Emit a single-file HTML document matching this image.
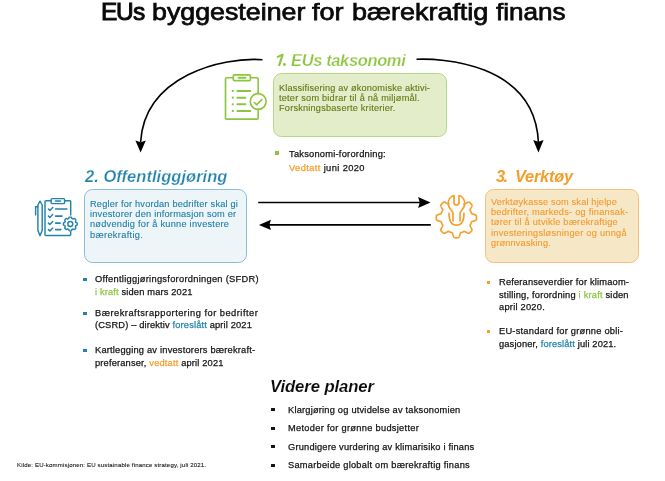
<!DOCTYPE html>
<html><head><meta charset="utf-8"><style>
html,body{margin:0;padding:0;}
body{width:665px;height:481px;position:relative;overflow:hidden;background:#fff;font-family:"Liberation Sans",sans-serif;-webkit-font-smoothing:antialiased;}
.t{position:absolute;white-space:pre;will-change:transform;}
.box{position:absolute;box-sizing:border-box;border:1px solid;border-radius:8.5px;}
.sq{position:absolute;}
</style></head><body>
<div class="t" style="left:101.00px;top:-1.90px;font-size:24.5px;line-height:28px;color:#0a0a0a;font-weight:normal;-webkit-text-stroke:0.95px #0a0a0a;transform:scale(1.0000,1.0);transform-origin:0 22px;">E</div>
<div class="t" style="left:115.90px;top:-1.90px;font-size:24.5px;line-height:28px;color:#0a0a0a;font-weight:normal;-webkit-text-stroke:0.95px #0a0a0a;transform:scale(1.0000,1.0);transform-origin:0 22px;">U</div>
<div class="t" style="left:133.20px;top:-1.90px;font-size:24.5px;line-height:28px;color:#0a0a0a;font-weight:normal;-webkit-text-stroke:0.95px #0a0a0a;transform:scale(1.0000,1.0);transform-origin:0 22px;">s</div>
<div class="t" style="left:151.90px;top:-1.90px;font-size:24.5px;line-height:28px;color:#0a0a0a;font-weight:normal;-webkit-text-stroke:0.75px #0a0a0a;transform:scale(1.0930,1.0);transform-origin:0 22px;">byggesteiner</div>
<div class="t" style="left:312.40px;top:-1.90px;font-size:24.5px;line-height:28px;color:#0a0a0a;font-weight:normal;-webkit-text-stroke:0.75px #0a0a0a;transform:scale(1.1071,1.0);transform-origin:0 22px;">for</div>
<div class="t" style="left:352.20px;top:-1.90px;font-size:24.5px;line-height:28px;color:#0a0a0a;font-weight:normal;-webkit-text-stroke:0.75px #0a0a0a;transform:scale(1.1003,1.0);transform-origin:0 22px;">bærekraftig</div>
<div class="t" style="left:496.20px;top:-1.90px;font-size:24.5px;line-height:28px;color:#0a0a0a;font-weight:normal;-webkit-text-stroke:0.75px #0a0a0a;transform:scale(1.0655,1.0);transform-origin:0 22px;">finans</div>
<svg width="665" height="481" style="position:absolute;left:0;top:0"><g stroke="#8cc63f" stroke-width="2.1" stroke-linecap="round" fill="none"><path d="M282.6,54.8 L279.2,65.1"/><path d="M282.2,54.8 L277.7,56.9" stroke-width="1.9"/></g><circle cx="284.4" cy="64.5" r="1.45" fill="#8cc63f"/></svg>
<div class="t" style="left:290.60px;top:50.90px;font-size:16.50px;line-height:19px;color:#8cc63f;font-weight:bold;font-style:italic;-webkit-text-stroke:0.25px #fff;"><span style="letter-spacing:-0.372px">EUs taksonomi</span></div>
<div class="t" style="left:85.13px;top:166.90px;font-size:16.50px;line-height:19px;color:#2384ab;font-weight:bold;font-style:italic;-webkit-text-stroke:0.25px #fff;"><span style="letter-spacing:0.035px">2. Offentliggjøring</span></div>
<div class="t" style="left:496.20px;top:167.10px;font-size:16.40px;line-height:19px;color:#f59e2c;font-weight:bold;font-style:italic;"><span style="letter-spacing:-1.694px">3.</span></div>
<div class="t" style="left:515.40px;top:167.10px;font-size:16.40px;line-height:19px;color:#f59e2c;font-weight:bold;font-style:italic;"><span style="letter-spacing:-0.245px">Verktøy</span></div>
<div class="t" style="left:269.90px;top:377.30px;font-size:16.70px;line-height:19px;color:#0a0a0a;font-weight:bold;font-style:italic;-webkit-text-stroke:0.1px #fff;"><span style="letter-spacing:-0.088px">Videre planer</span></div>

<div class="box" style="left:273px;top:73px;width:173.5px;height:63.5px;background:#e3edca;border-color:#b3d887;"></div>
<div class="box" style="left:84px;top:189px;width:163px;height:73.5px;background:#eef5f9;border-color:#88bdd3;"></div>
<div class="box" style="left:485px;top:189px;width:153.5px;height:73.5px;background:#f6e8c7;border-color:#f6c07c;"></div>
<div class="t" style="left:278.80px;top:82.70px;font-size:9.17px;line-height:10.2px;color:#667815;font-weight:normal;font-style:normal;-webkit-text-stroke:0.12px;"><span style="letter-spacing:0.183px">Klassifisering av økonomiske aktivi-</span><br><span style="letter-spacing:0.230px">teter som bidrar til å nå miljømål.</span><br><span style="letter-spacing:0.220px">Forskningsbaserte kriterier.</span></div>
<div class="t" style="left:89.90px;top:199.20px;font-size:9.21px;line-height:10.2px;color:#1f7ea6;font-weight:normal;font-style:normal;-webkit-text-stroke:0.12px;"><span style="letter-spacing:0.190px">Regler for hvordan bedrifter skal gi</span><br><span style="letter-spacing:0.218px">investorer den informasjon som er</span><br><span style="letter-spacing:0.249px">nødvendig for å kunne investere</span><br><span style="letter-spacing:0.340px">bærekraftig.</span></div>
<div class="t" style="left:490.50px;top:197.00px;font-size:9.21px;line-height:10.22px;color:#f29a30;font-weight:normal;font-style:normal;-webkit-text-stroke:0.12px;"><span style="letter-spacing:0.168px">Verktøykasse som skal hjelpe</span><br><span style="letter-spacing:0.246px">bedrifter, markeds- og finansak-</span><br><span style="letter-spacing:0.241px">tører til å utvikle bærekraftige</span><br><span style="letter-spacing:0.266px">investeringsløsninger og unngå</span><br><span style="letter-spacing:0.161px">grønnvasking.</span></div>
<div class="sq" style="left:275.2px;top:151.4px;width:3.4px;height:3.2px;background:#8cc63f"></div>
<div class="t" style="left:289.00px;top:147.80px;font-size:9.31px;line-height:13.7px;color:#141414;font-weight:normal;font-style:normal;-webkit-text-stroke:0.25px;"><span style="letter-spacing:0.234px">Taksonomi-forordning:</span><br><span style="letter-spacing:0.390px"><span style="color:#f59e2c">Vedtatt</span> juni 2020</span></div>
<div class="sq" style="left:83.3px;top:278.3px;width:3.5px;height:3.2px;background:#2384ab"></div>
<div class="t" style="left:95.30px;top:272.80px;font-size:9.31px;line-height:12.8px;color:#141414;font-weight:normal;font-style:normal;-webkit-text-stroke:0.25px;"><span style="letter-spacing:0.279px">Offentliggjøringsforordningen (SFDR)</span><br><span style="letter-spacing:0.151px"><span style="color:#8cc63f">i kraft</span> siden mars 2021</span></div>
<div class="sq" style="left:83.3px;top:311.8px;width:3.5px;height:3.2px;background:#2384ab"></div>
<div class="t" style="left:95.40px;top:307.00px;font-size:9.31px;line-height:12.45px;color:#141414;font-weight:normal;font-style:normal;-webkit-text-stroke:0.25px;"><span style="letter-spacing:0.488px">Bærekraftsrapportering for bedrifter</span><br><span style="letter-spacing:0.146px">(CSRD) – direktiv <span style="color:#2384ab">foreslått</span> april 2021</span></div>
<div class="sq" style="left:83.3px;top:348.8px;width:3.5px;height:3.2px;background:#2384ab"></div>
<div class="t" style="left:95.40px;top:343.60px;font-size:9.31px;line-height:12.5px;color:#141414;font-weight:normal;font-style:normal;-webkit-text-stroke:0.25px;"><span style="letter-spacing:0.199px">Kartlegging av investorers bærekraft-</span><br><span style="letter-spacing:0.164px">preferanser, <span style="color:#f59e2c">vedtatt</span> april 2021</span></div>
<div class="sq" style="left:487px;top:280.7px;width:3.2px;height:3.2px;background:#f59e2c"></div>
<div class="t" style="left:498.60px;top:275.50px;font-size:9.31px;line-height:12.6px;color:#141414;font-weight:normal;font-style:normal;-webkit-text-stroke:0.25px;"><span style="letter-spacing:0.174px">Referanseverdier for klimaom-</span><br><span style="letter-spacing:0.198px">stilling, forordning <span style="color:#8cc63f">i kraft</span> siden</span><br><span style="letter-spacing:0.232px">april 2020.</span></div>
<div class="sq" style="left:487px;top:329.9px;width:3.2px;height:3.2px;background:#f59e2c"></div>
<div class="t" style="left:498.80px;top:324.70px;font-size:9.31px;line-height:12.8px;color:#141414;font-weight:normal;font-style:normal;-webkit-text-stroke:0.25px;"><span style="letter-spacing:0.226px">EU-standard for grønne obli-</span><br><span style="letter-spacing:0.136px">gasjoner, <span style="color:#2384ab">foreslått</span> juli 2021.</span></div>
<div class="sq" style="left:271.3px;top:408px;width:3.7px;height:3.4px;background:#141414"></div>
<div class="t" style="left:288.40px;top:404.00px;font-size:9.26px;line-height:12px;color:#141414;font-weight:normal;font-style:normal;-webkit-text-stroke:0.25px;"><span style="letter-spacing:0.215px">Klargjøring og utvidelse av taksonomien</span></div>
<div class="sq" style="left:271.3px;top:427px;width:3.7px;height:3.4px;background:#141414"></div>
<div class="t" style="left:288.40px;top:422.30px;font-size:9.26px;line-height:12px;color:#141414;font-weight:normal;font-style:normal;-webkit-text-stroke:0.25px;"><span style="letter-spacing:0.302px">Metoder for grønne budsjetter</span></div>
<div class="sq" style="left:271.3px;top:445px;width:3.7px;height:3.4px;background:#141414"></div>
<div class="t" style="left:288.40px;top:440.80px;font-size:9.26px;line-height:12px;color:#141414;font-weight:normal;font-style:normal;-webkit-text-stroke:0.25px;"><span style="letter-spacing:0.204px">Grundigere vurdering av klimarisiko i finans</span></div>
<div class="sq" style="left:271.3px;top:464px;width:3.7px;height:3.4px;background:#141414"></div>
<div class="t" style="left:288.40px;top:459.20px;font-size:9.26px;line-height:12px;color:#141414;font-weight:normal;font-style:normal;-webkit-text-stroke:0.25px;"><span style="letter-spacing:0.255px">Samarbeide globalt om bærekraftig finans</span></div>
<div class="t" style="left:16.90px;top:460.80px;font-size:6.08px;line-height:8px;color:#141414;font-weight:normal;font-style:normal;-webkit-text-stroke:0.1px;"><span style="letter-spacing:0.150px">Kilde: EU-kommisjonen: EU sustainable finance strategy, juli 2021.</span></div>

<svg width="665" height="481" viewBox="0 0 665 481" style="position:absolute;left:0;top:0">
<defs>
<marker id="ah" viewBox="0 0 12 10" refX="12" refY="5" markerWidth="12" markerHeight="10" markerUnits="userSpaceOnUse" orient="auto">
<path d="M0,0 L12,5 L0,10 L2.5,5 Z" fill="#000"/>
</marker>
</defs>
<g fill="none" stroke="#000" stroke-width="1.6">
<path d="M262.5,59.7 C222.5,56.7 144.7,75.5 140.6,142"/>
<path d="M416.5,59.3 C438.5,58.3 534.5,61.5 538.4,142"/>
<path d="M258.2,202.5 L420,202.5"/>
<path d="M430.8,224.9 L269,224.9"/>
</g>
<path d="M140.6,152.6 L135.4,140.5 L140.6,142.2 L145.8,140.5 Z" fill="#000"/>
<path d="M538.4,152.4 L533.2,140.1 L538.4,141.8 L543.6,140.1 Z" fill="#000"/>
<path d="M430.5,202.5 L418.1,197.1 L419.8,202.5 L418.1,207.9 Z" fill="#000"/>
<path d="M258.9,224.9 L270.9,219.7 L269.4,224.9 L270.9,230.1 Z" fill="#000"/>

<!-- icon1 -->
<g fill="none" stroke="#8cc63f" stroke-width="1.65" stroke-linecap="round" stroke-linejoin="round">
<path d="M258.2,93.5 V78.9 Q258.2,77.7 257,77.7 H250.4 M233.3,77.7 H226.7 Q225.5,77.7 225.5,78.9 V117.9 Q225.5,119.1 226.7,119.1 H257 Q258.2,119.1 258.2,117.9 V109.4"/>
<rect x="233.3" y="74.8" width="17.1" height="5.8" rx="1.2"/>
<path d="M238.6,77.7 H245.4" stroke-width="2"/>
<circle cx="258.2" cy="101.5" r="7.9"/>
<path d="M254.3,102.5 L256.8,104.8 L261.8,99.6" stroke-width="1.6"/>
<g stroke-width="2">
<path d="M237.4,90.9 H250.3 M237.4,97.7 H245.3 M237.4,104.3 H245.3 M237.4,111 H250.3"/>
</g>
</g>
<g fill="#8cc63f">
<circle cx="232.8" cy="90.9" r="1.15"/><circle cx="232.8" cy="97.7" r="1.15"/><circle cx="232.8" cy="104.3" r="1.15"/><circle cx="232.8" cy="111" r="1.15"/>
</g>

<g fill="none" stroke="#2384ab" stroke-width="1.45" stroke-linecap="round" stroke-linejoin="round">
<path d="M70.7,215 V201.6 Q70.7,200.8 69.9,200.8 H64.6 M51.1,200.8 H45.8 Q45,200.8 45,201.6 V234.6 Q45,235.4 45.8,235.4 H69.9 Q70.7,235.4 70.7,234.6 V232.3"/>
<rect x="51.1" y="198.6" width="13.5" height="5" rx="1"/>
<path d="M55.5,201.1 H60.5" stroke-width="1.5"/>
<path d="M38,206.8 H35.6 V214.7"/>
<path d="M40,201.2 L42.2,205 V230.5 L40,235.6 L37.9,230.5 V205 Z"/>
<path d="M48.4,209 L49.9,210.4 L52.7,207.4 M48.4,216.1 L49.9,217.5 L52.7,214.5 M48.4,223.1 L49.9,224.5 L52.7,221.5 M48.4,229.6 L49.9,231 L52.7,228"/>
<g stroke-width="1.6"><path d="M55.6,209 H66.8 M55.6,216.1 H62 M55.6,223.1 H60.2 M55.6,229.6 H60.8"/></g>
<circle cx="70.3" cy="224" r="2.45"/>
<path d="M70.30,217.10 L70.36,217.10 L70.42,217.10 L70.48,217.10 L70.54,217.10 L70.60,217.11 L70.66,217.11 L70.72,217.11 L70.78,217.12 L70.84,217.12 L70.90,217.13 L70.96,217.13 L71.02,217.14 L71.08,217.14 L71.14,217.15 L71.20,217.16 L71.26,217.18 L71.31,217.21 L71.37,217.26 L71.42,217.32 L71.47,217.39 L71.51,217.46 L71.55,217.55 L71.59,217.64 L71.63,217.73 L71.67,217.83 L71.70,217.93 L71.73,218.02 L71.77,218.12 L71.80,218.21 L71.83,218.29 L71.86,218.36 L71.90,218.43 L71.93,218.49 L71.97,218.53 L72.01,218.56 L72.06,218.58 L72.11,218.59 L72.16,218.61 L72.20,218.63 L72.25,218.64 L72.30,218.66 L72.34,218.68 L72.39,218.70 L72.44,218.72 L72.48,218.73 L72.53,218.75 L72.57,218.77 L72.62,218.79 L72.66,218.81 L72.71,218.83 L72.75,218.86 L72.80,218.88 L72.84,218.90 L72.89,218.92 L72.93,218.94 L72.98,218.95 L73.04,218.95 L73.11,218.93 L73.18,218.91 L73.26,218.88 L73.34,218.84 L73.42,218.80 L73.51,218.76 L73.60,218.72 L73.69,218.67 L73.79,218.63 L73.88,218.59 L73.97,218.55 L74.06,218.52 L74.15,218.50 L74.24,218.48 L74.31,218.48 L74.38,218.48 L74.45,218.50 L74.50,218.53 L74.55,218.56 L74.60,218.60 L74.64,218.64 L74.69,218.68 L74.74,218.71 L74.78,218.75 L74.83,218.79 L74.87,218.83 L74.92,218.87 L74.96,218.91 L75.01,218.95 L75.05,218.99 L75.09,219.04 L75.14,219.08 L75.18,219.12 L75.22,219.16 L75.26,219.21 L75.31,219.25 L75.35,219.29 L75.39,219.34 L75.43,219.38 L75.47,219.43 L75.51,219.47 L75.55,219.52 L75.59,219.56 L75.62,219.61 L75.66,219.66 L75.70,219.70 L75.74,219.75 L75.77,219.80 L75.80,219.85 L75.82,219.92 L75.82,219.99 L75.82,220.06 L75.80,220.15 L75.78,220.24 L75.75,220.33 L75.71,220.42 L75.67,220.51 L75.63,220.61 L75.58,220.70 L75.54,220.79 L75.50,220.88 L75.46,220.96 L75.42,221.04 L75.39,221.12 L75.37,221.19 L75.35,221.26 L75.35,221.32 L75.36,221.37 L75.38,221.41 L75.40,221.46 L75.42,221.50 L75.44,221.55 L75.47,221.59 L75.49,221.64 L75.51,221.68 L75.53,221.73 L75.55,221.77 L75.57,221.82 L75.58,221.86 L75.60,221.91 L75.62,221.96 L75.64,222.00 L75.66,222.05 L75.67,222.10 L75.69,222.14 L75.71,222.19 L75.72,222.24 L75.74,222.29 L75.77,222.33 L75.81,222.37 L75.87,222.40 L75.94,222.44 L76.01,222.47 L76.09,222.50 L76.18,222.53 L76.28,222.57 L76.37,222.60 L76.47,222.63 L76.57,222.67 L76.66,222.71 L76.75,222.75 L76.84,222.79 L76.91,222.83 L76.98,222.88 L77.04,222.93 L77.09,222.99 L77.12,223.04 L77.14,223.10 L77.15,223.16 L77.16,223.22 L77.16,223.28 L77.17,223.34 L77.17,223.40 L77.18,223.46 L77.18,223.52 L77.19,223.58 L77.19,223.64 L77.19,223.70 L77.20,223.76 L77.20,223.82 L77.20,223.88 L77.20,223.94 L77.20,224.00 L77.20,224.06 L77.20,224.12 L77.20,224.18 L77.20,224.24 L77.19,224.30 L77.19,224.36 L77.19,224.42 L77.18,224.48 L77.18,224.54 L77.17,224.60 L77.17,224.66 L77.16,224.72 L77.16,224.78 L77.15,224.84 L77.14,224.90 L77.12,224.96 L77.09,225.01 L77.04,225.07 L76.98,225.12 L76.91,225.17 L76.84,225.21 L76.75,225.25 L76.66,225.29 L76.57,225.33 L76.47,225.37 L76.37,225.40 L76.28,225.43 L76.18,225.47 L76.09,225.50 L76.01,225.53 L75.94,225.56 L75.87,225.60 L75.81,225.63 L75.77,225.67 L75.74,225.71 L75.72,225.76 L75.71,225.81 L75.69,225.86 L75.67,225.90 L75.66,225.95 L75.64,226.00 L75.62,226.04 L75.60,226.09 L75.58,226.14 L75.57,226.18 L75.55,226.23 L75.53,226.27 L75.51,226.32 L75.49,226.36 L75.47,226.41 L75.44,226.45 L75.42,226.50 L75.40,226.54 L75.38,226.59 L75.36,226.63 L75.35,226.68 L75.35,226.74 L75.37,226.81 L75.39,226.88 L75.42,226.96 L75.46,227.04 L75.50,227.12 L75.54,227.21 L75.58,227.30 L75.63,227.39 L75.67,227.49 L75.71,227.58 L75.75,227.67 L75.78,227.76 L75.80,227.85 L75.82,227.94 L75.82,228.01 L75.82,228.08 L75.80,228.15 L75.77,228.20 L75.74,228.25 L75.70,228.30 L75.66,228.34 L75.62,228.39 L75.59,228.44 L75.55,228.48 L75.51,228.53 L75.47,228.57 L75.43,228.62 L75.39,228.66 L75.35,228.71 L75.31,228.75 L75.26,228.79 L75.22,228.84 L75.18,228.88 L75.14,228.92 L75.09,228.96 L75.05,229.01 L75.01,229.05 L74.96,229.09 L74.92,229.13 L74.87,229.17 L74.83,229.21 L74.78,229.25 L74.74,229.29 L74.69,229.32 L74.64,229.36 L74.60,229.40 L74.55,229.44 L74.50,229.47 L74.45,229.50 L74.38,229.52 L74.31,229.52 L74.24,229.52 L74.15,229.50 L74.06,229.48 L73.97,229.45 L73.88,229.41 L73.79,229.37 L73.69,229.33 L73.60,229.28 L73.51,229.24 L73.42,229.20 L73.34,229.16 L73.26,229.12 L73.18,229.09 L73.11,229.07 L73.04,229.05 L72.98,229.05 L72.93,229.06 L72.89,229.08 L72.84,229.10 L72.80,229.12 L72.75,229.14 L72.71,229.17 L72.66,229.19 L72.62,229.21 L72.57,229.23 L72.53,229.25 L72.48,229.27 L72.44,229.28 L72.39,229.30 L72.34,229.32 L72.30,229.34 L72.25,229.36 L72.20,229.37 L72.16,229.39 L72.11,229.41 L72.06,229.42 L72.01,229.44 L71.97,229.47 L71.93,229.51 L71.90,229.57 L71.86,229.64 L71.83,229.71 L71.80,229.79 L71.77,229.88 L71.73,229.98 L71.70,230.07 L71.67,230.17 L71.63,230.27 L71.59,230.36 L71.55,230.45 L71.51,230.54 L71.47,230.61 L71.42,230.68 L71.37,230.74 L71.31,230.79 L71.26,230.82 L71.20,230.84 L71.14,230.85 L71.08,230.86 L71.02,230.86 L70.96,230.87 L70.90,230.87 L70.84,230.88 L70.78,230.88 L70.72,230.89 L70.66,230.89 L70.60,230.89 L70.54,230.90 L70.48,230.90 L70.42,230.90 L70.36,230.90 L70.30,230.90 L70.24,230.90 L70.18,230.90 L70.12,230.90 L70.06,230.90 L70.00,230.89 L69.94,230.89 L69.88,230.89 L69.82,230.88 L69.76,230.88 L69.70,230.87 L69.64,230.87 L69.58,230.86 L69.52,230.86 L69.46,230.85 L69.40,230.84 L69.34,230.82 L69.29,230.79 L69.23,230.74 L69.18,230.68 L69.13,230.61 L69.09,230.54 L69.05,230.45 L69.01,230.36 L68.97,230.27 L68.93,230.17 L68.90,230.07 L68.87,229.98 L68.83,229.88 L68.80,229.79 L68.77,229.71 L68.74,229.64 L68.70,229.57 L68.67,229.51 L68.63,229.47 L68.59,229.44 L68.54,229.42 L68.49,229.41 L68.44,229.39 L68.40,229.37 L68.35,229.36 L68.30,229.34 L68.26,229.32 L68.21,229.30 L68.16,229.28 L68.12,229.27 L68.07,229.25 L68.03,229.23 L67.98,229.21 L67.94,229.19 L67.89,229.17 L67.85,229.14 L67.80,229.12 L67.76,229.10 L67.71,229.08 L67.67,229.06 L67.62,229.05 L67.56,229.05 L67.49,229.07 L67.42,229.09 L67.34,229.12 L67.26,229.16 L67.18,229.20 L67.09,229.24 L67.00,229.28 L66.91,229.33 L66.81,229.37 L66.72,229.41 L66.63,229.45 L66.54,229.48 L66.45,229.50 L66.36,229.52 L66.29,229.52 L66.22,229.52 L66.15,229.50 L66.10,229.47 L66.05,229.44 L66.00,229.40 L65.96,229.36 L65.91,229.32 L65.86,229.29 L65.82,229.25 L65.77,229.21 L65.73,229.17 L65.68,229.13 L65.64,229.09 L65.59,229.05 L65.55,229.01 L65.51,228.96 L65.46,228.92 L65.42,228.88 L65.38,228.84 L65.34,228.79 L65.29,228.75 L65.25,228.71 L65.21,228.66 L65.17,228.62 L65.13,228.57 L65.09,228.53 L65.05,228.48 L65.01,228.44 L64.98,228.39 L64.94,228.34 L64.90,228.30 L64.86,228.25 L64.83,228.20 L64.80,228.15 L64.78,228.08 L64.78,228.01 L64.78,227.94 L64.80,227.85 L64.82,227.76 L64.85,227.67 L64.89,227.58 L64.93,227.49 L64.97,227.39 L65.02,227.30 L65.06,227.21 L65.10,227.12 L65.14,227.04 L65.18,226.96 L65.21,226.88 L65.23,226.81 L65.25,226.74 L65.25,226.68 L65.24,226.63 L65.22,226.59 L65.20,226.54 L65.18,226.50 L65.16,226.45 L65.13,226.41 L65.11,226.36 L65.09,226.32 L65.07,226.27 L65.05,226.23 L65.03,226.18 L65.02,226.14 L65.00,226.09 L64.98,226.04 L64.96,226.00 L64.94,225.95 L64.93,225.90 L64.91,225.86 L64.89,225.81 L64.88,225.76 L64.86,225.71 L64.83,225.67 L64.79,225.63 L64.73,225.60 L64.66,225.56 L64.59,225.53 L64.51,225.50 L64.42,225.47 L64.32,225.43 L64.23,225.40 L64.13,225.37 L64.03,225.33 L63.94,225.29 L63.85,225.25 L63.76,225.21 L63.69,225.17 L63.62,225.12 L63.56,225.07 L63.51,225.01 L63.48,224.96 L63.46,224.90 L63.45,224.84 L63.44,224.78 L63.44,224.72 L63.43,224.66 L63.43,224.60 L63.42,224.54 L63.42,224.48 L63.41,224.42 L63.41,224.36 L63.41,224.30 L63.40,224.24 L63.40,224.18 L63.40,224.12 L63.40,224.06 L63.40,224.00 L63.40,223.94 L63.40,223.88 L63.40,223.82 L63.40,223.76 L63.41,223.70 L63.41,223.64 L63.41,223.58 L63.42,223.52 L63.42,223.46 L63.43,223.40 L63.43,223.34 L63.44,223.28 L63.44,223.22 L63.45,223.16 L63.46,223.10 L63.48,223.04 L63.51,222.99 L63.56,222.93 L63.62,222.88 L63.69,222.83 L63.76,222.79 L63.85,222.75 L63.94,222.71 L64.03,222.67 L64.13,222.63 L64.23,222.60 L64.32,222.57 L64.42,222.53 L64.51,222.50 L64.59,222.47 L64.66,222.44 L64.73,222.40 L64.79,222.37 L64.83,222.33 L64.86,222.29 L64.88,222.24 L64.89,222.19 L64.91,222.14 L64.93,222.10 L64.94,222.05 L64.96,222.00 L64.98,221.96 L65.00,221.91 L65.02,221.86 L65.03,221.82 L65.05,221.77 L65.07,221.73 L65.09,221.68 L65.11,221.64 L65.13,221.59 L65.16,221.55 L65.18,221.50 L65.20,221.46 L65.22,221.41 L65.24,221.37 L65.25,221.32 L65.25,221.26 L65.23,221.19 L65.21,221.12 L65.18,221.04 L65.14,220.96 L65.10,220.88 L65.06,220.79 L65.02,220.70 L64.97,220.61 L64.93,220.51 L64.89,220.42 L64.85,220.33 L64.82,220.24 L64.80,220.15 L64.78,220.06 L64.78,219.99 L64.78,219.92 L64.80,219.85 L64.83,219.80 L64.86,219.75 L64.90,219.70 L64.94,219.66 L64.98,219.61 L65.01,219.56 L65.05,219.52 L65.09,219.47 L65.13,219.43 L65.17,219.38 L65.21,219.34 L65.25,219.29 L65.29,219.25 L65.34,219.21 L65.38,219.16 L65.42,219.12 L65.46,219.08 L65.51,219.04 L65.55,218.99 L65.59,218.95 L65.64,218.91 L65.68,218.87 L65.73,218.83 L65.77,218.79 L65.82,218.75 L65.86,218.71 L65.91,218.68 L65.96,218.64 L66.00,218.60 L66.05,218.56 L66.10,218.53 L66.15,218.50 L66.22,218.48 L66.29,218.48 L66.36,218.48 L66.45,218.50 L66.54,218.52 L66.63,218.55 L66.72,218.59 L66.81,218.63 L66.91,218.67 L67.00,218.72 L67.09,218.76 L67.18,218.80 L67.26,218.84 L67.34,218.88 L67.42,218.91 L67.49,218.93 L67.56,218.95 L67.62,218.95 L67.67,218.94 L67.71,218.92 L67.76,218.90 L67.80,218.88 L67.85,218.86 L67.89,218.83 L67.94,218.81 L67.98,218.79 L68.03,218.77 L68.07,218.75 L68.12,218.73 L68.16,218.72 L68.21,218.70 L68.26,218.68 L68.30,218.66 L68.35,218.64 L68.40,218.63 L68.44,218.61 L68.49,218.59 L68.54,218.58 L68.59,218.56 L68.63,218.53 L68.67,218.49 L68.70,218.43 L68.74,218.36 L68.77,218.29 L68.80,218.21 L68.83,218.12 L68.87,218.02 L68.90,217.93 L68.93,217.83 L68.97,217.73 L69.01,217.64 L69.05,217.55 L69.09,217.46 L69.13,217.39 L69.18,217.32 L69.23,217.26 L69.29,217.21 L69.34,217.18 L69.40,217.16 L69.46,217.15 L69.52,217.14 L69.58,217.14 L69.64,217.13 L69.70,217.13 L69.76,217.12 L69.82,217.12 L69.88,217.11 L69.94,217.11 L70.00,217.11 L70.06,217.10 L70.12,217.10 L70.18,217.10 L70.24,217.10 L70.30,217.10 Z"/>
</g>

<g fill="none" stroke="#f5a02f" stroke-width="1.7" stroke-linecap="round" stroke-linejoin="round">
<path d="M463.93,203.92 L464.03,203.98 L464.14,204.01 L464.28,204.01 L464.43,203.98 L464.59,203.93 L464.77,203.86 L464.96,203.77 L465.17,203.67 L465.39,203.56 L465.61,203.43 L465.85,203.30 L466.09,203.16 L466.34,203.02 L466.59,202.89 L466.85,202.75 L467.10,202.63 L467.35,202.51 L467.60,202.40 L467.84,202.31 L468.08,202.23 L468.31,202.17 L468.52,202.13 L468.72,202.11 L468.90,202.12 L469.06,202.15 L469.20,202.21 L469.32,202.30 L469.43,202.40 L469.54,202.49 L469.66,202.59 L469.77,202.69 L469.88,202.79 L469.99,202.89 L470.09,202.99 L470.20,203.09 L470.31,203.19 L470.41,203.29 L470.52,203.39 L470.62,203.50 L470.73,203.60 L470.83,203.71 L470.93,203.81 L471.03,203.92 L471.14,204.03 L471.24,204.14 L471.33,204.25 L471.43,204.36 L471.53,204.47 L471.63,204.58 L471.72,204.69 L471.82,204.80 L471.90,204.93 L471.96,205.07 L471.98,205.24 L471.98,205.42 L471.96,205.63 L471.92,205.84 L471.85,206.07 L471.77,206.31 L471.68,206.55 L471.57,206.80 L471.45,207.05 L471.32,207.31 L471.18,207.56 L471.05,207.81 L470.91,208.06 L470.77,208.30 L470.64,208.53 L470.52,208.76 L470.41,208.97 L470.31,209.18 L470.22,209.37 L470.15,209.55 L470.11,209.71 L470.09,209.85 L470.10,209.98 L470.13,210.09 L470.19,210.19 L470.24,210.30 L470.30,210.40 L470.35,210.50 L470.40,210.60 L470.46,210.71 L470.51,210.81 L470.56,210.91 L470.61,211.02 L470.65,211.12 L470.70,211.23 L470.75,211.33 L470.80,211.44 L470.84,211.54 L470.89,211.65 L470.93,211.75 L470.97,211.86 L471.02,211.97 L471.06,212.08 L471.10,212.18 L471.14,212.29 L471.18,212.40 L471.22,212.51 L471.25,212.62 L471.29,212.73 L471.33,212.84 L471.36,212.95 L471.40,213.06 L471.43,213.17 L471.46,213.28 L471.50,213.39 L471.55,213.49 L471.65,213.58 L471.77,213.67 L471.92,213.75 L472.10,213.83 L472.29,213.91 L472.51,213.98 L472.75,214.05 L473.00,214.12 L473.26,214.20 L473.52,214.27 L473.80,214.35 L474.07,214.43 L474.35,214.52 L474.61,214.61 L474.88,214.70 L475.13,214.80 L475.37,214.91 L475.59,215.02 L475.79,215.13 L475.97,215.26 L476.13,215.38 L476.25,215.52 L476.34,215.65 L476.40,215.80 L476.42,215.94 L476.44,216.09 L476.45,216.24 L476.46,216.38 L476.47,216.53 L476.47,216.68 L476.48,216.83 L476.49,216.97 L476.49,217.12 L476.50,217.27 L476.50,217.42 L476.50,217.56 L476.50,217.71 L476.50,217.86 L476.50,218.01 L476.49,218.15 L476.49,218.30 L476.49,218.45 L476.48,218.60 L476.47,218.74 L476.46,218.89 L476.46,219.04 L476.45,219.18 L476.43,219.33 L476.42,219.48 L476.40,219.62 L476.33,219.77 L476.23,219.90 L476.11,220.03 L475.95,220.16 L475.76,220.28 L475.56,220.40 L475.33,220.51 L475.09,220.61 L474.84,220.71 L474.58,220.81 L474.31,220.90 L474.03,220.98 L473.76,221.06 L473.49,221.14 L473.22,221.21 L472.96,221.29 L472.71,221.36 L472.48,221.43 L472.27,221.50 L472.07,221.58 L471.90,221.66 L471.75,221.74 L471.63,221.83 L471.54,221.92 L471.49,222.03 L471.46,222.14 L471.43,222.25 L471.39,222.36 L471.36,222.47 L471.32,222.58 L471.29,222.69 L471.25,222.80 L471.21,222.91 L471.17,223.02 L471.13,223.12 L471.09,223.23 L471.05,223.34 L471.01,223.45 L470.97,223.55 L470.92,223.66 L470.88,223.77 L470.84,223.87 L470.79,223.98 L470.74,224.08 L470.70,224.19 L470.65,224.29 L470.60,224.40 L470.55,224.50 L470.50,224.61 L470.45,224.71 L470.40,224.81 L470.34,224.91 L470.29,225.02 L470.24,225.12 L470.18,225.22 L470.13,225.32 L470.09,225.43 L470.09,225.57 L470.11,225.71 L470.16,225.88 L470.23,226.06 L470.32,226.25 L470.42,226.46 L470.54,226.67 L470.66,226.90 L470.79,227.13 L470.93,227.38 L471.07,227.62 L471.20,227.88 L471.34,228.13 L471.46,228.38 L471.58,228.64 L471.69,228.88 L471.78,229.13 L471.86,229.36 L471.92,229.59 L471.97,229.80 L471.99,230.00 L471.98,230.19 L471.95,230.35 L471.89,230.49 L471.80,230.61 L471.71,230.72 L471.61,230.84 L471.52,230.95 L471.42,231.06 L471.32,231.17 L471.22,231.28 L471.12,231.39 L471.02,231.49 L470.92,231.60 L470.82,231.71 L470.71,231.81 L470.61,231.92 L470.50,232.02 L470.40,232.12 L470.29,232.23 L470.19,232.33 L470.08,232.43 L469.97,232.53 L469.86,232.63 L469.75,232.73 L469.64,232.82 L469.53,232.92 L469.42,233.02 L469.30,233.11 L469.18,233.20 L469.04,233.25 L468.87,233.28 L468.69,233.28 L468.49,233.26 L468.27,233.22 L468.05,233.16 L467.81,233.08 L467.57,232.98 L467.32,232.87 L467.07,232.75 L466.81,232.63 L466.56,232.49 L466.31,232.36 L466.06,232.22 L465.82,232.08 L465.58,231.95 L465.36,231.83 L465.14,231.71 L464.94,231.61 L464.74,231.53 L464.57,231.46 L464.40,231.41 L464.26,231.39 L464.13,231.40 L464.01,231.43 L463.91,231.49 L463.81,231.54 L463.71,231.59 L463.61,231.65 L463.50,231.70 L463.40,231.75 L463.30,231.80 L463.20,231.85 L463.09,231.90 L462.99,231.95 L462.88,232.00 L462.78,232.05 L462.67,232.09 L462.57,232.14 L462.46,232.18 L462.35,232.23 L462.25,232.27 L462.14,232.31 L462.03,232.36 L461.92,232.40 L461.82,232.44 L461.71,232.48 L461.60,232.51 L461.49,232.55 L461.38,232.59 L461.27,232.62 L461.16,232.66 L461.05,232.69 L460.94,232.73 L460.83,232.76 L460.72,232.79 L460.62,232.85 L460.52,232.94 L460.43,233.06 L460.35,233.21 L460.27,233.38 L460.20,233.58 L460.13,233.80 L460.05,234.03 L459.98,234.28 L459.91,234.54 L459.83,234.81 L459.76,235.08 L459.68,235.35 L459.59,235.63 L459.50,235.90 L459.41,236.16 L459.31,236.41 L459.20,236.65 L459.09,236.87 L458.97,237.08 L458.85,237.26 L458.73,237.42 L458.59,237.54 L458.46,237.64 L458.31,237.70 L458.17,237.72 L458.02,237.73 L457.87,237.75 L457.73,237.76 L457.58,237.77 L457.43,237.77 L457.28,237.78 L457.14,237.79 L456.99,237.79 L456.84,237.80 L456.69,237.80 L456.55,237.80 L456.40,237.80 L456.25,237.80 L456.11,237.80 L455.96,237.80 L455.81,237.79 L455.66,237.79 L455.52,237.78 L455.37,237.77 L455.22,237.77 L455.07,237.76 L454.93,237.75 L454.78,237.73 L454.63,237.72 L454.49,237.70 L454.34,237.64 L454.21,237.54 L454.07,237.42 L453.95,237.26 L453.83,237.08 L453.71,236.87 L453.60,236.65 L453.49,236.41 L453.39,236.16 L453.30,235.90 L453.21,235.63 L453.12,235.35 L453.04,235.08 L452.97,234.81 L452.89,234.54 L452.82,234.28 L452.75,234.03 L452.67,233.80 L452.60,233.58 L452.53,233.38 L452.45,233.21 L452.37,233.06 L452.28,232.94 L452.18,232.85 L452.08,232.79 L451.97,232.76 L451.86,232.73 L451.75,232.69 L451.64,232.66 L451.53,232.62 L451.42,232.59 L451.31,232.55 L451.20,232.51 L451.09,232.48 L450.98,232.44 L450.88,232.40 L450.77,232.36 L450.66,232.31 L450.55,232.27 L450.45,232.23 L450.34,232.18 L450.23,232.14 L450.13,232.09 L450.02,232.05 L449.92,232.00 L449.81,231.95 L449.71,231.90 L449.60,231.85 L449.50,231.80 L449.40,231.75 L449.30,231.70 L449.19,231.65 L449.09,231.59 L448.99,231.54 L448.89,231.49 L448.79,231.43 L448.67,231.40 L448.54,231.39 L448.40,231.41 L448.23,231.46 L448.06,231.53 L447.86,231.61 L447.66,231.71 L447.44,231.83 L447.22,231.95 L446.98,232.08 L446.74,232.22 L446.49,232.36 L446.24,232.49 L445.99,232.63 L445.73,232.75 L445.48,232.87 L445.23,232.98 L444.99,233.08 L444.75,233.16 L444.53,233.22 L444.31,233.26 L444.11,233.28 L443.93,233.28 L443.76,233.25 L443.62,233.20 L443.50,233.11 L443.38,233.02 L443.27,232.92 L443.16,232.82 L443.05,232.73 L442.94,232.63 L442.83,232.53 L442.72,232.43 L442.61,232.33 L442.51,232.23 L442.40,232.12 L442.30,232.02 L442.19,231.92 L442.09,231.81 L441.98,231.71 L441.88,231.60 L441.78,231.49 L441.68,231.39 L441.58,231.28 L441.48,231.17 L441.38,231.06 L441.28,230.95 L441.19,230.84 L441.09,230.72 L441.00,230.61 L440.91,230.49 L440.85,230.35 L440.82,230.19 L440.81,230.00 L440.83,229.80 L440.88,229.59 L440.94,229.36 L441.02,229.13 L441.11,228.88 L441.22,228.64 L441.34,228.38 L441.46,228.13 L441.60,227.88 L441.73,227.62 L441.87,227.38 L442.01,227.13 L442.14,226.90 L442.26,226.67 L442.38,226.46 L442.48,226.25 L442.57,226.06 L442.64,225.88 L442.69,225.71 L442.71,225.57 L442.71,225.43 L442.67,225.32 L442.62,225.22 L442.56,225.12 L442.51,225.02 L442.46,224.91 L442.40,224.81 L442.35,224.71 L442.30,224.61 L442.25,224.50 L442.20,224.40 L442.15,224.29 L442.10,224.19 L442.06,224.08 L442.01,223.98 L441.96,223.87 L441.92,223.77 L441.88,223.66 L441.83,223.55 L441.79,223.45 L441.75,223.34 L441.71,223.23 L441.67,223.12 L441.63,223.02 L441.59,222.91 L441.55,222.80 L441.51,222.69 L441.48,222.58 L441.44,222.47 L441.41,222.36 L441.37,222.25 L441.34,222.14 L441.31,222.03 L441.26,221.92 L441.17,221.83 L441.05,221.74 L440.90,221.66 L440.73,221.58 L440.53,221.50 L440.32,221.43 L440.09,221.36 L439.84,221.29 L439.58,221.21 L439.31,221.14 L439.04,221.06 L438.77,220.98 L438.49,220.90 L438.22,220.81 L437.96,220.71 L437.71,220.61 L437.47,220.51 L437.24,220.40 L437.04,220.28 L436.85,220.16 L436.69,220.03 L436.57,219.90 L436.47,219.77 L436.40,219.62 L436.38,219.48 L436.37,219.33 L436.35,219.18 L436.34,219.04 L436.34,218.89 L436.33,218.74 L436.32,218.60 L436.31,218.45 L436.31,218.30 L436.31,218.15 L436.30,218.01 L436.30,217.86 L436.30,217.71 L436.30,217.56 L436.30,217.42 L436.30,217.27 L436.31,217.12 L436.31,216.97 L436.32,216.83 L436.33,216.68 L436.33,216.53 L436.34,216.38 L436.35,216.24 L436.36,216.09 L436.38,215.94 L436.40,215.80 L436.46,215.65 L436.55,215.52 L436.67,215.38 L436.83,215.26 L437.01,215.13 L437.21,215.02 L437.43,214.91 L437.67,214.80 L437.92,214.70 L438.19,214.61 L438.45,214.52 L438.73,214.43 L439.00,214.35 L439.28,214.27 L439.54,214.20 L439.80,214.12 L440.05,214.05 L440.29,213.98 L440.51,213.91 L440.70,213.83 L440.88,213.75 L441.03,213.67 L441.15,213.58 L441.25,213.49 L441.30,213.39 L441.34,213.28 L441.37,213.17 L441.40,213.06 L441.44,212.95 L441.47,212.84 L441.51,212.73 L441.55,212.62 L441.58,212.51 L441.62,212.40 L441.66,212.29 L441.70,212.18 L441.74,212.08 L441.78,211.97 L441.83,211.86 L441.87,211.75 L441.91,211.65 L441.96,211.54 L442.00,211.44 L442.05,211.33 L442.10,211.23 L442.15,211.12 L442.19,211.02 L442.24,210.91 L442.29,210.81 L442.34,210.71 L442.40,210.60 L442.45,210.50 L442.50,210.40 L442.56,210.30 L442.61,210.19 L442.67,210.09 L442.70,209.98 L442.71,209.85 L442.69,209.71 L442.65,209.55 L442.58,209.37 L442.49,209.18 L442.39,208.97 L442.28,208.76 L442.16,208.53 L442.03,208.30 L441.89,208.06 L441.75,207.81 L441.62,207.56 L441.48,207.31 L441.35,207.05 L441.23,206.80 L441.12,206.55 L441.03,206.31 L440.95,206.07 L440.88,205.84 L440.84,205.63 L440.82,205.42 L440.82,205.24 L440.84,205.07 L440.90,204.93 L440.98,204.80 L441.08,204.69 L441.17,204.58 L441.27,204.47 L441.37,204.36 L441.47,204.25 L441.56,204.14 L441.66,204.03 L441.77,203.92 L441.87,203.81 L441.97,203.71 L442.07,203.60 L442.18,203.50 L442.28,203.39 L442.39,203.29 L442.49,203.19 L442.60,203.09 L442.71,202.99 L442.81,202.89 L442.92,202.79 L443.03,202.69 L443.14,202.59 L443.26,202.49 L443.37,202.40 L443.48,202.30 L443.60,202.21 L443.74,202.15 L443.90,202.12 L444.08,202.11 L444.28,202.13 L444.49,202.17 L444.72,202.23 L444.96,202.31 L445.20,202.40 L445.45,202.51 L445.70,202.63 L445.95,202.75 L446.21,202.89 L446.46,203.02 L446.71,203.16 L446.95,203.30 L447.19,203.43 L447.41,203.56 L447.63,203.67 L447.84,203.77 L448.03,203.86 L448.21,203.93 L448.37,203.98 L448.52,204.01 L448.66,204.01 L448.77,203.98 L448.87,203.92"/>
<path d="M449,213.3 Q449,225.2 456.5,225.2 Q464,225.2 464,213.3"/>
<path d="M453,221 V213.5 C453,211 449,209 448.4,205 C447.5,199.5 451,196 454,195.5 V202.5 A2.5,2.5 0 0 0 459,202.5 V195.5 C462,196 465.5,199.5 464.6,205 C464,209 460,211 460,213.5 V221"/>
</g>
</svg>

</body></html>
